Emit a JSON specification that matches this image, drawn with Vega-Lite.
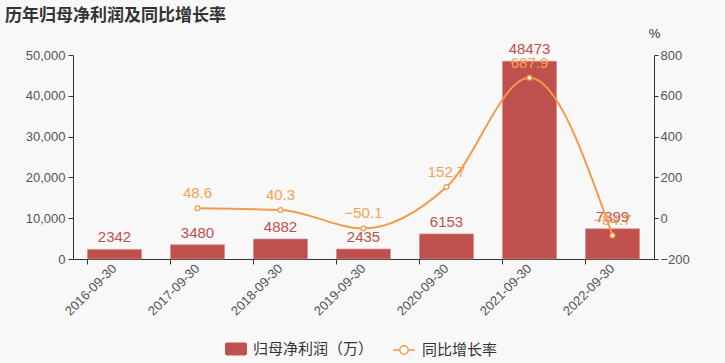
{
  "$schema": "https://vega.github.io/schema/vega-lite/v6.json",
  "autosize": {"type": "none"},
  "width": 581,
  "height": 204,
  "padding": {"left": 73, "top": 55, "right": 71, "bottom": 104},
  "background": "#f8f8f8",
  "config": {
    "font": "Liberation Sans, Noto Sans CJK SC",
    "view": {"stroke": null},
    "axis": {"grid": false, "domainColor": "#333333", "tickColor": "#333333", "labelColor": "#555555", "labelFontSize": 13, "tickSize": 5, "labelFont": "Liberation Sans, Noto Sans CJK SC"},
    "legend": {"labelFontSize": 15, "labelColor": "#333333", "labelFont": "Noto Sans CJK SC", "labelOffset": 6, "symbolSize": 484, "orient": "none", "direction": "horizontal"}
  },
  "title": {
    "text": "历年归母净利润及同比增长率",
    "anchor": "start",
    "frame": "group",
    "fontSize": 17,
    "fontWeight": "bold",
    "color": "#333333",
    "font": "Noto Sans CJK SC",
    "dx": -68,
    "dy": 2,
    "baseline": "top"
  },
  "data": {
    "values": [
      {"date": "2016-09-30", "profit": 2342, "growth": null},
      {"date": "2017-09-30", "profit": 3480, "growth": 48.6},
      {"date": "2018-09-30", "profit": 4882, "growth": 40.3},
      {"date": "2019-09-30", "profit": 2435, "growth": -50.1},
      {"date": "2020-09-30", "profit": 6153, "growth": 152.7},
      {"date": "2021-09-30", "profit": 48473, "growth": 687.9},
      {"date": "2022-09-30", "profit": 7399, "growth": -84.7}
    ]
  },
  "encoding": {
    "x": {
      "field": "date",
      "type": "nominal",
      "sort": null,
      "scale": {"paddingInner": 0.35, "paddingOuter": 0.175},
      "axis": {"title": null, "bandPosition": 0, "labelAngle": -45, "labelAlign": "right", "labelBaseline": "middle", "labelPadding": 2, "tickSize": 5}
    }
  },
  "layer": [
    {
      "encoding": {
        "y": {
          "field": "profit",
          "type": "quantitative",
          "scale": {"domain": [0, 50000], "nice": false},
          "axis": {"title": null, "values": [0, 10000, 20000, 30000, 40000, 50000], "format": ",d", "labelPadding": 3}
        }
      },
      "layer": [
        {
          "mark": {"type": "bar", "stroke": "#d88a88", "strokeWidth": 0.7},
          "encoding": {
            "fill": {
              "datum": "归母净利润（万）",
              "scale": {"domain": ["归母净利润（万）"], "range": ["#c0504d"]},
              "legend": {
                "title": null,
                "legendX": 152,
                "legendY": 283,
                "symbolType": "M-0.84,-0.58H0.84A0.16,0.16 0 0 1 1,-0.42V0.42A0.16,0.16 0 0 1 0.84,0.58H-0.84A0.16,0.16 0 0 1 -1,0.42V-0.42A0.16,0.16 0 0 1 -0.84,-0.58Z",
                "symbolStrokeWidth": 0
              }
            }
          }
        },
        {
          "mark": {"type": "text", "baseline": "bottom", "dy": -4, "fontSize": 15, "color": "#c0504d"},
          "encoding": {"text": {"field": "profit", "type": "quantitative", "format": "d"}}
        }
      ]
    },
    {
      "transform": [{"filter": "datum.growth != null"}],
      "encoding": {
        "y": {
          "field": "growth",
          "type": "quantitative",
          "scale": {"domain": [-200, 800], "nice": false},
          "axis": {"orient": "right", "values": [-200, 0, 200, 400, 600, 800], "labelPadding": 2, "tickSize": 4, "title": "%", "titleAngle": 0, "titleX": 0, "titleY": -22, "titleAlign": "center", "titleBaseline": "middle", "titleFontSize": 13, "titleFontWeight": "normal", "titleColor": "#333333"}
        }
      },
      "layer": [
        {
          "mark": {"type": "line", "interpolate": "monotone", "strokeWidth": 2, "point": {"filled": true, "fill": "#ffffff", "strokeWidth": 1.3, "size": 22}},
          "encoding": {
            "stroke": {
              "datum": "同比增长率",
              "scale": {"domain": ["同比增长率"], "range": ["#f59a4a"]},
              "legend": {
                "title": null,
                "legendX": 319,
                "legendY": 283,
                "symbolType": "M-1,0H-0.38M0.38,0H1M-0.38,0A0.38,0.38 0 1,0 0.38,0A0.38,0.38 0 1,0 -0.38,0",
                "symbolFillColor": "#ffffff",
                "symbolStrokeWidth": 1.5
              }
            }
          }
        },
        {
          "mark": {"type": "text", "baseline": "bottom", "dy": -7, "fontSize": 15, "color": "#f5a055"},
          "encoding": {"text": {"field": "growth", "type": "quantitative", "format": ".1f"}}
        }
      ]
    }
  ],
  "resolve": {"scale": {"y": "independent"}}
}
